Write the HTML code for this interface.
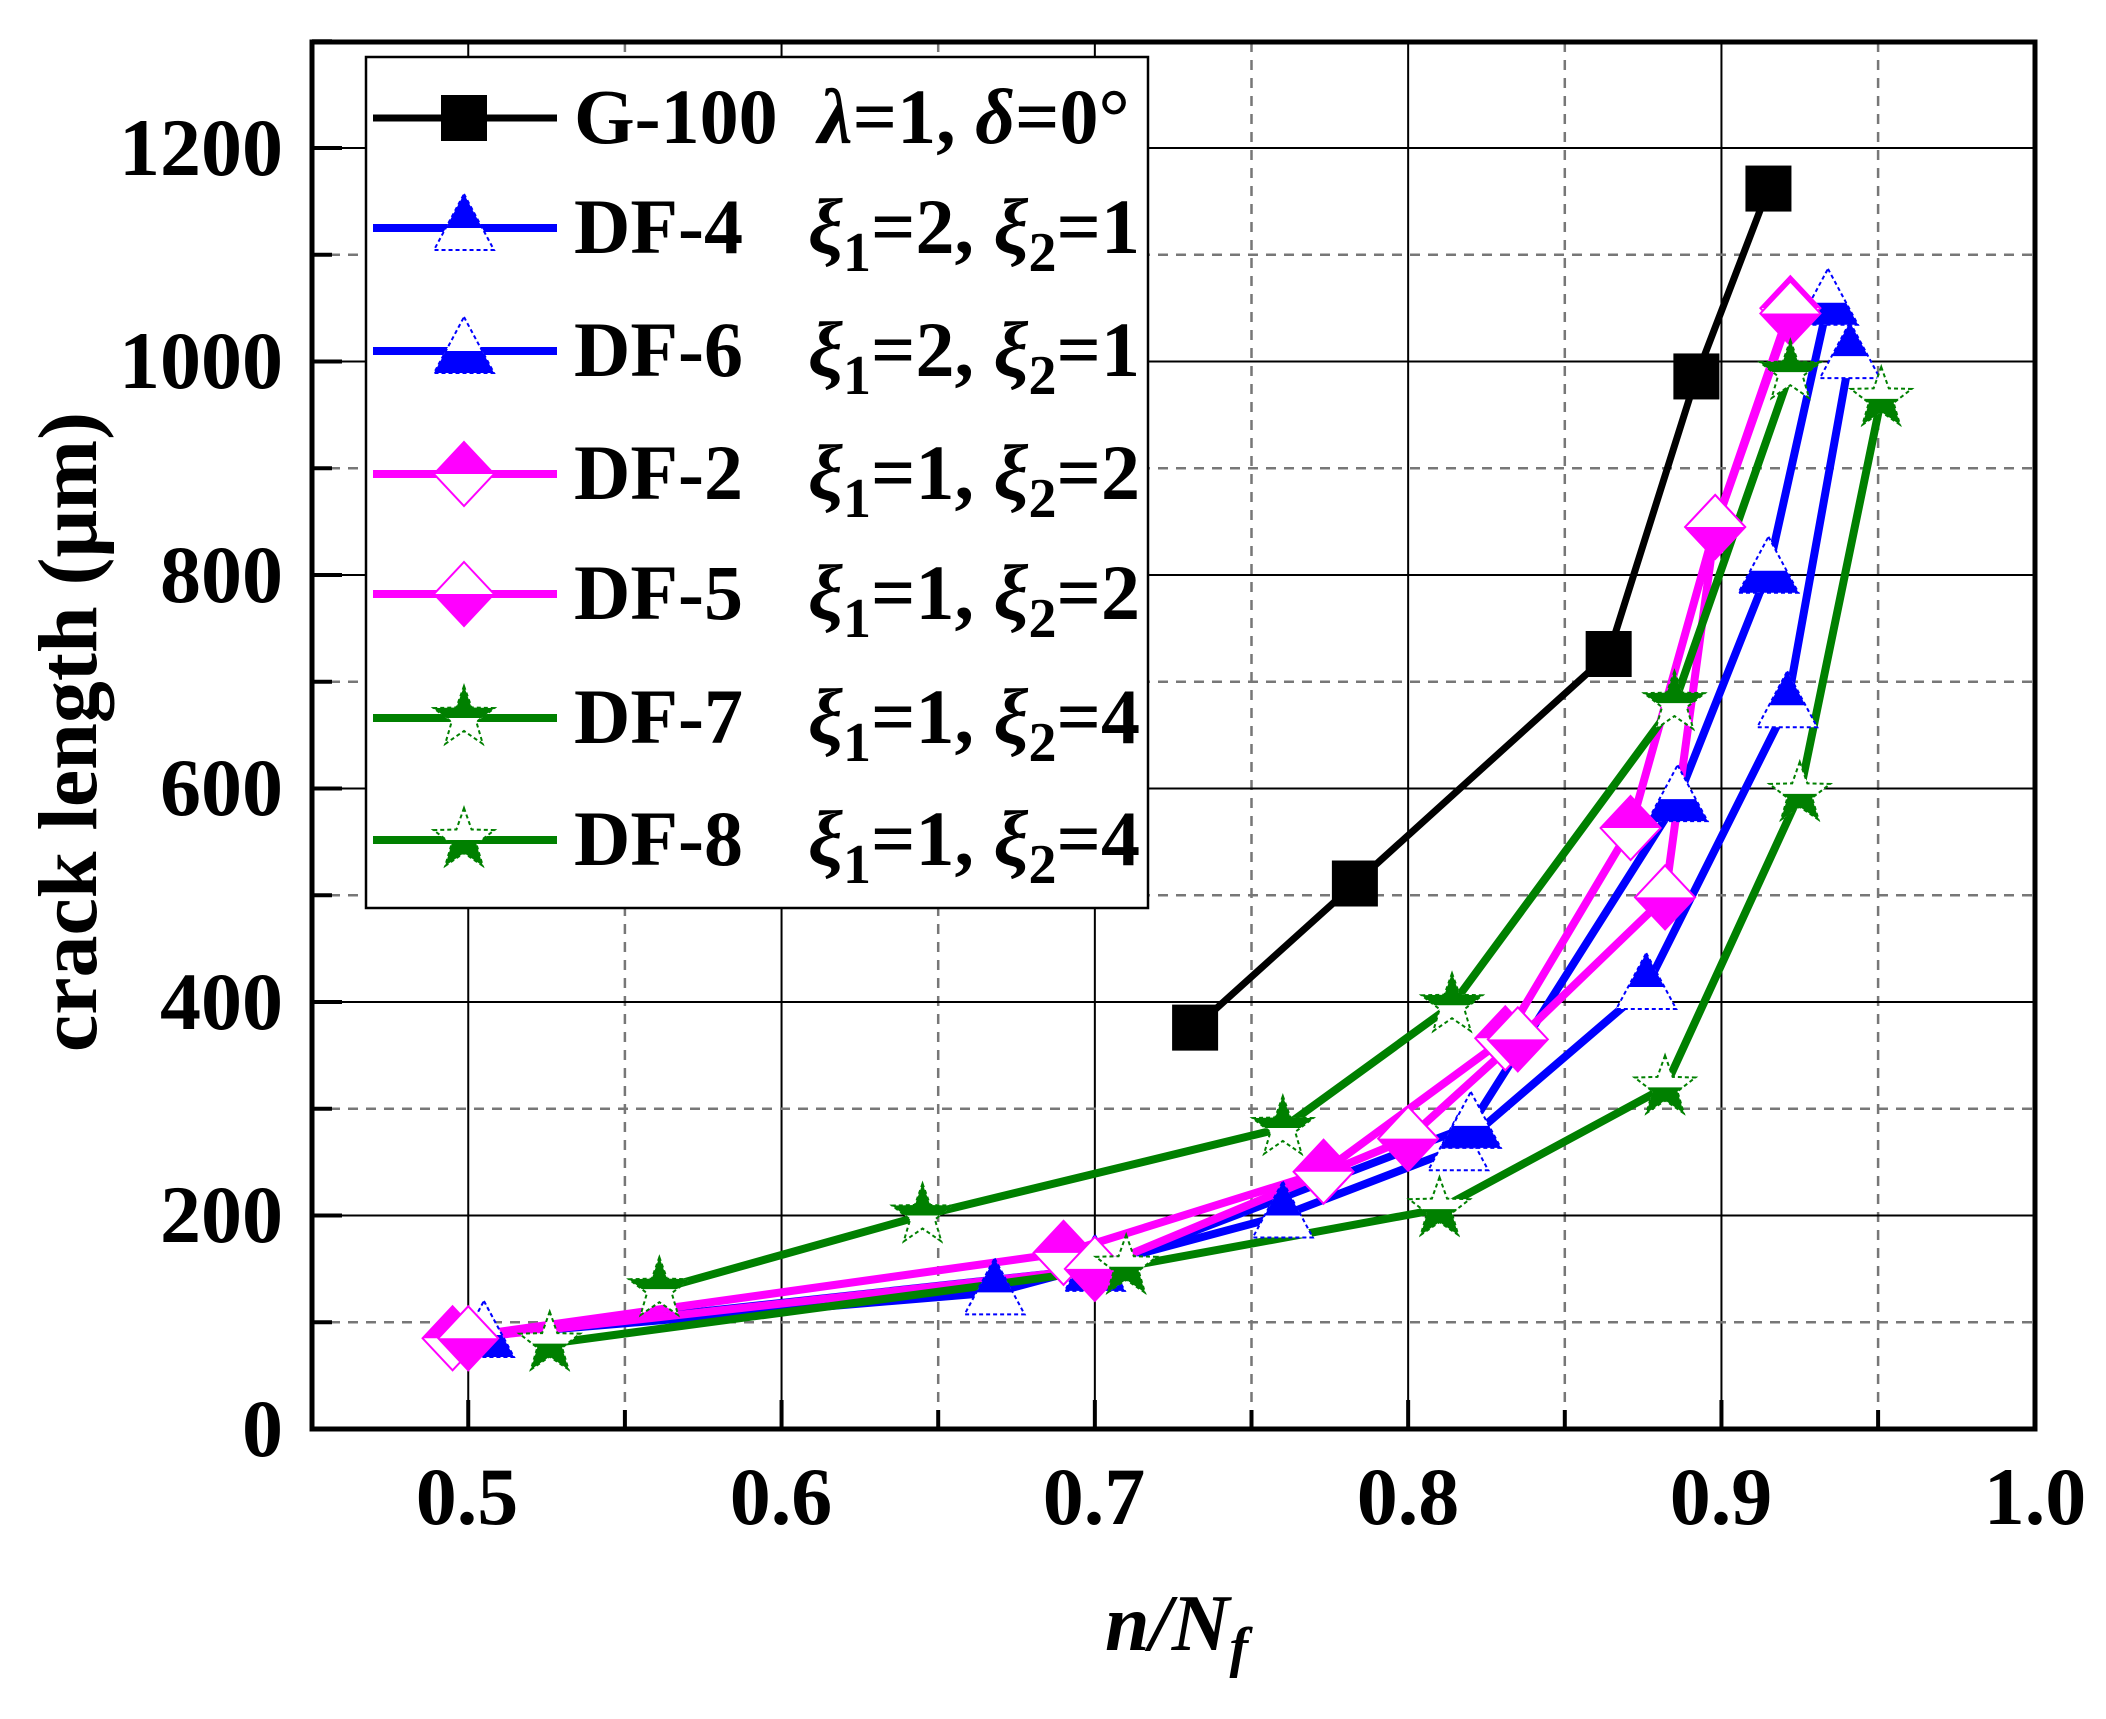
<!DOCTYPE html>
<html><head><meta charset="utf-8"><style>
html,body{margin:0;padding:0;background:#fff;}
svg{display:block;}
svg text{font-family:"Liberation Serif","Times New Roman",Times,serif;font-weight:bold;fill:#000;}
</style></head><body>
<svg id="s" width="2106" height="1719" viewBox="0 0 2106 1719" xmlns="http://www.w3.org/2000/svg" font-family="Liberation Serif, Times New Roman, serif">
<defs>
<clipPath id="top"><rect x="-60" y="-60" width="120" height="60"/></clipPath>
<clipPath id="bot"><rect x="-60" y="0" width="120" height="60"/></clipPath>
<clipPath id="plot"><rect x="312" y="42" width="1723" height="1387"/></clipPath>
</defs>
<rect x="0" y="0" width="2106" height="1719" fill="#fff"/>
<g id="grid"></g>
<g id="series" clip-path="url(#plot)"></g>
<rect x="312" y="42" width="1723" height="1387" fill="none" stroke="#000" stroke-width="5"/>
<g id="ticks"></g>
<g font-size="82" text-anchor="end">
<text x="283" y="1456">0</text>
<text x="283" y="1242">200</text>
<text x="283" y="1029">400</text>
<text x="283" y="815">600</text>
<text x="283" y="602">800</text>
<text x="283" y="388">1000</text>
<text x="283" y="175">1200</text>
</g>
<g font-size="82" text-anchor="middle">
<text x="467" y="1524">0.5</text>
<text x="781" y="1524">0.6</text>
<text x="1094" y="1524">0.7</text>
<text x="1408" y="1524">0.8</text>
<text x="1721" y="1524">0.9</text>
<text x="2035" y="1524">1.0</text>
</g>
<text font-size="84" text-anchor="middle" transform="translate(96,732) rotate(-90)">crack length (μm)</text>
<text font-size="80" x="1105" y="1650" font-style="italic">n/N<tspan font-size="56" dy="16">f</tspan></text>
<rect x="366" y="57" width="782" height="851" fill="#fff" stroke="#000" stroke-width="2.5"/>
<g id="leg"></g>
<g font-size="78">
<text x="574" y="143">G-100</text>
<text x="818" y="143" font-style="italic">λ<tspan font-style="normal">=1, </tspan>δ<tspan font-style="normal">=0°</tspan></text>
<text x="574" y="253">DF-4</text>
<text x="808" y="253"><tspan font-style="italic">ξ</tspan><tspan font-size="56" dy="18">1</tspan><tspan dy="-18">=2, </tspan><tspan font-style="italic">ξ</tspan><tspan font-size="56" dy="18">2</tspan><tspan dy="-18">=1</tspan></text>
<text x="574" y="376">DF-6</text>
<text x="808" y="376"><tspan font-style="italic">ξ</tspan><tspan font-size="56" dy="18">1</tspan><tspan dy="-18">=2, </tspan><tspan font-style="italic">ξ</tspan><tspan font-size="56" dy="18">2</tspan><tspan dy="-18">=1</tspan></text>
<text x="574" y="499">DF-2</text>
<text x="808" y="499"><tspan font-style="italic">ξ</tspan><tspan font-size="56" dy="18">1</tspan><tspan dy="-18">=1, </tspan><tspan font-style="italic">ξ</tspan><tspan font-size="56" dy="18">2</tspan><tspan dy="-18">=2</tspan></text>
<text x="574" y="619">DF-5</text>
<text x="808" y="619"><tspan font-style="italic">ξ</tspan><tspan font-size="56" dy="18">1</tspan><tspan dy="-18">=1, </tspan><tspan font-style="italic">ξ</tspan><tspan font-size="56" dy="18">2</tspan><tspan dy="-18">=2</tspan></text>
<text x="574" y="743">DF-7</text>
<text x="808" y="743"><tspan font-style="italic">ξ</tspan><tspan font-size="56" dy="18">1</tspan><tspan dy="-18">=1, </tspan><tspan font-style="italic">ξ</tspan><tspan font-size="56" dy="18">2</tspan><tspan dy="-18">=4</tspan></text>
<text x="574" y="865">DF-8</text>
<text x="808" y="865"><tspan font-style="italic">ξ</tspan><tspan font-size="56" dy="18">1</tspan><tspan dy="-18">=1, </tspan><tspan font-style="italic">ξ</tspan><tspan font-size="56" dy="18">2</tspan><tspan dy="-18">=4</tspan></text>
</g>
</svg>
<script>
var NS="http://www.w3.org/2000/svg";
function X(x){return 311.6+(x-0.45)*3133;}
function Y(y){return 1429-y*1.0675;}
function el(t,a,p){var e=document.createElementNS(NS,t);for(var k in a)e.setAttribute(k,a[k]);p.appendChild(e);return e;}
var g=document.getElementById('grid'),tk=document.getElementById('ticks');
for(var i=1;i<=11;i++){var x=0.45+i*0.05;var px=X(x);var maj=(i%2==1);
 el('line',{x1:px,y1:42,x2:px,y2:1429,stroke:maj?'#000':'#777','stroke-width':maj?2:2.5,'stroke-dasharray':maj?'none':'10 8'},g);
 el('line',{x1:px,y1:1429,x2:px,y2:maj?1400:1410,stroke:'#000','stroke-width':4},tk);}
for(var j=1;j<=13;j++){var py=Y(j*100);var maj=(j%2==0);
 el('line',{x1:312,y1:py,x2:2035,y2:py,stroke:maj?'#000':'#777','stroke-width':maj?2:2.5,'stroke-dasharray':maj?'none':'10 8'},g);
 el('line',{x1:312,y1:py,x2:maj?342:332,y2:py,stroke:'#000','stroke-width':4},tk);}
function shape(type,c,fillHalf,parent,x,y){
 var G=el('g',{transform:'translate('+x+','+y+')'},parent);
 var d;
 if(type=='sq'){el('rect',{x:-23,y:-23,width:46,height:46,fill:'#000'},G);return;}
 if(type=='tri')d='M0,-34 L30,22 L-30,22 Z';
 if(type=='dia')d='M0,-32 L30,0 L0,32 L-30,0 Z';
 if(type=='star'){d='';for(var k=0;k<10;k++){var r=k%2?13:32;var a=-Math.PI/2+k*Math.PI/5;d+=(k?'L':'M')+(r*Math.cos(a)).toFixed(1)+','+(r*Math.sin(a)).toFixed(1);}d+='Z';}
 el('path',{d:d,fill:'#fff',stroke:c,'stroke-width':2,'stroke-dasharray':(type=='dia')?'none':'4 3'},G);
 el('path',{d:d,fill:c,'clip-path':'url(#'+fillHalf+')'},G);
}
var S=[
 {c:'#000',t:'sq',w:7,p:[[0.732,376],[0.783,511],[0.864,726],[0.892,986],[0.915,1162]]},
 {c:'#0000ff',t:'tri',f:'top',w:8,p:[[0.505,88],[0.668,128],[0.76,200],[0.816,263],[0.876,414],[0.921,678],[0.941,1005]]},
 {c:'#0000ff',t:'tri',f:'bot',w:8,p:[[0.505,88],[0.70,150],[0.82,284],[0.886,590],[0.915,804],[0.934,1055]]},
 {c:'#ff00ff',t:'dia',f:'top',w:8,p:[[0.495,85],[0.69,165],[0.773,241],[0.831,366],[0.871,563],[0.898,845],[0.922,1050]]},
 {c:'#ff00ff',t:'dia',f:'bot',w:8,p:[[0.5,85],[0.70,150],[0.80,272],[0.835,365],[0.882,498],[0.898,845],[0.922,1045]]},
 {c:'#008000',t:'star',f:'top',w:8,p:[[0.561,131],[0.645,200],[0.76,282],[0.814,397],[0.885,680],[0.922,990]]},
 {c:'#008000',t:'star',f:'bot',w:8,p:[[0.526,80],[0.71,152],[0.81,206],[0.882,320],[0.925,595],[0.951,965]]}
];
var sg=document.getElementById('series');
S.forEach(function(s){var pts=s.p.map(function(q){return X(q[0]).toFixed(1)+','+Y(q[1]).toFixed(1);}).join(' ');
 el('polyline',{points:pts,fill:'none',stroke:s.c,'stroke-width':s.w,'stroke-linejoin':'miter'},sg);});
S.forEach(function(s){s.p.forEach(function(q){shape(s.t,s.c,s.f,sg,X(q[0]),Y(q[1]));});});
var lg=document.getElementById('leg');var rows=[118,228,351,474,594,718,840];
S.forEach(function(s,i){var y=rows[i];el('line',{x1:373,y1:y,x2:557,y2:y,stroke:s.c,'stroke-width':s.w},lg);shape(s.t,s.c,s.f,lg,464,y);});
</script>
</body></html>
